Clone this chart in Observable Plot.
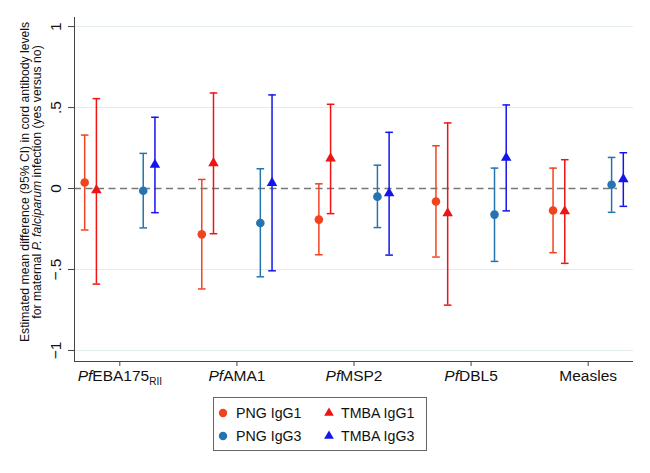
<!DOCTYPE html>
<html><head><meta charset="utf-8">
<script src="https://cdn.jsdelivr.net/npm/d3@7"></script>
<script src="https://cdn.jsdelivr.net/npm/@observablehq/plot@0.6"></script>
<style>
body{margin:0;background:#fff;font-family:"Liberation Sans",Arial,Helvetica,sans-serif}
#chart svg{display:block}
</style></head><body><div id="chart"></div><div id="legend"></div>
<script>
// ---- data ----
const categories = ["PfEBA175RII", "PfAMA1", "PfMSP2", "PfDBL5", "Measles"];
const series = ["PNG IgG1", "TMBA IgG1", "PNG IgG3", "TMBA IgG3"];
const yTicks = [-1, -0.5, 0, 0.5, 1];

const pngIgG1Est = [0.037, -0.283, -0.192, -0.080, -0.136];
const pngIgG1Lo  = [-0.256, -0.620, -0.409, -0.423, -0.396];
const pngIgG1Hi  = [0.330, 0.056, 0.029, 0.264, 0.126];

const tmbaIgG1Est = [-0.010, 0.157, 0.186, -0.153, -0.140];
const tmbaIgG1Lo  = [-0.590, -0.279, -0.155, -0.720, -0.462];
const tmbaIgG1Hi  = [0.555, 0.590, 0.520, 0.405, 0.178];

const pngIgG3Est = [-0.014, -0.213, -0.050, -0.161, 0.023];
const pngIgG3Lo  = [-0.243, -0.545, -0.241, -0.450, -0.147];
const pngIgG3Hi  = [0.217, 0.122, 0.144, 0.126, 0.192];

const tmbaIgG3Est = [0.147, 0.035, -0.029, 0.190, 0.058];
const tmbaIgG3Lo  = [-0.149, -0.508, -0.411, -0.138, -0.110];
const tmbaIgG3Hi  = [0.440, 0.578, 0.347, 0.516, 0.221];

// ---- styling / layout ----
const colors = ["#f0441f", "#ee1414", "#2574b0", "#1414ee"];
const shapes = ["circle", "triangle", "circle", "triangle"];
const dodge = [-0.30, -0.20, 0.20, 0.30];
const xDomain = [0.613, 5.387];
const yDomain = [-1.068, 1.056];
const refLineEnd = 5.25;
const font = '"Liberation Sans", Arial, Helvetica, sans-serif';
const ink = "#111";

const seriesValues = [
  [pngIgG1Est, pngIgG1Lo, pngIgG1Hi],
  [tmbaIgG1Est, tmbaIgG1Lo, tmbaIgG1Hi],
  [pngIgG3Est, pngIgG3Lo, pngIgG3Hi],
  [tmbaIgG3Est, tmbaIgG3Lo, tmbaIgG3Hi]
];
const rows = series.flatMap((s, si) => categories.map((c, ci) => ({
  series: s, shape: shapes[si], pos: ci + 1 + dodge[si],
  est: seriesValues[si][0][ci], lo: seriesValues[si][1][ci], hi: seriesValues[si][2][ci]
})));

const cap = {draw(ctx) { ctx.moveTo(-3.8, 0); ctx.lineTo(3.8, 0); }};
const fmtY = d => d === 0 ? "0" : (d < 0 ? "\u2212" : "") + String(Math.abs(d)).replace(/^0/, "");

const plot = Plot.plot({
  width: 650, height: 395,
  marginLeft: 74, marginRight: 17, marginTop: 17, marginBottom: 34,
  style: {fontFamily: font, background: "#fff"},
  x: {domain: xDomain, label: null},
  y: {domain: yDomain, label: null},
  color: {domain: series, range: colors},
  marks: [
    Plot.ruleY(yTicks.filter(d => d !== 0), {stroke: "#e2ebee", strokeWidth: 1}),
    Plot.ruleY([0], {x1: xDomain[0], x2: refLineEnd, stroke: "#777", strokeWidth: 1.6, strokeDasharray: "7,4.5"}),
    Plot.ruleX([xDomain[0]], {stroke: "#444", strokeWidth: 1}),
    Plot.ruleY([yDomain[0]], {stroke: "#444", strokeWidth: 1}),
    Plot.axisY({ticks: yTicks, tickFormat: () => "", tickSize: 6, stroke: "#444", label: null}),
    Plot.text(yTicks, {x: () => xDomain[0], y: d => d, text: fmtY, rotate: -90, dx: -18.5,
      textAnchor: "middle", lineAnchor: "middle", fontSize: 15.5, fill: ink}),
    Plot.axisX({ticks: [1, 2, 3, 4, 5], tickFormat: i => categories[i - 1], tickSize: 5, tickPadding: 3, fontSize: 15.5, stroke: "#444", color: ink, label: null}),
    Plot.ruleX(rows, {x: "pos", y1: "lo", y2: "hi", stroke: "series", strokeWidth: 1.5}),
    Plot.dot(rows, {x: "pos", y: "lo", symbol: cap, stroke: "series", strokeWidth: 1.5, fill: "none"}),
    Plot.dot(rows, {x: "pos", y: "hi", symbol: cap, stroke: "series", strokeWidth: 1.5, fill: "none"}),
    Plot.dot(rows.filter(d => d.shape === "circle"), {x: "pos", y: "est", symbol: "circle", r: 4.3, fill: "series", stroke: "none"}),
    Plot.dot(rows.filter(d => d.shape === "triangle"), {x: "pos", y: "est", symbol: "triangle", r: 3.9, fill: "series", stroke: "none"})
  ]
});
document.getElementById("chart").appendChild(plot);

// Rich x tick labels (italic Pf, subscript RII)
d3.select(plot).selectAll('[aria-label="x-axis tick label"] text').each(function () {
  const t = d3.select(this);
  let s = t.text();
  t.text(null);
  if (s.startsWith("Pf")) { t.append("tspan").attr("font-style", "italic").text("Pf"); s = s.slice(2); }
  if (s.endsWith("RII")) {
    t.append("tspan").text(s.slice(0, -3));
    t.append("tspan").attr("font-size", 10).attr("dy", 4).text("RII");
  } else {
    t.append("tspan").text(s);
  }
});

// Y axis title (two lines, italic species name)
const yTitleLines = [
  [["Estimated mean difference (95% CI) in cord antibody levels", false]],
  [["for maternal ", false], ["P. falciparum", true], [" infection (yes versus no)", false]]
];
const yTitleX = [25, 37];
const gT = d3.select(plot).append("g").attr("font-family", font).attr("font-size", 12.2).attr("fill", ink);
yTitleLines.forEach((parts, i) => {
  const t = gT.append("text").attr("text-anchor", "middle").attr("dy", "0.35em")
    .attr("transform", `translate(${yTitleX[i]},182) rotate(-90)`);
  parts.forEach(([txt, it]) => t.append("tspan").attr("font-style", it ? "italic" : null).text(txt));
});

// Legend
const lg = d3.select("#legend").append("svg").attr("width", 650).attr("height", 70)
  .style("display", "block").attr("font-family", font);
lg.append("rect").attr("x", 213.5).attr("y", 2.5).attr("width", 213).attr("height", 53)
  .attr("fill", "#fff").attr("stroke", "#666").attr("stroke-width", 1);
const legendCol = [[223, 236], [329, 341]];
const legendRow = [18, 41];
series.forEach((s, si) => {
  const col = legendCol[si % 2], row = legendRow[Math.floor(si / 2)];
  const isTri = shapes[si] === "triangle";
  const sym = d3.symbol(isTri ? d3.symbolTriangle : d3.symbolCircle, isTri ? Math.PI * 3.6 * 3.6 : Math.PI * 4.2 * 4.2);
  lg.append("path").attr("d", sym()).attr("transform", `translate(${col[0]},${row})`).attr("fill", colors[si]);
  lg.append("text").attr("x", col[1]).attr("y", row).attr("dy", "0.35em").attr("font-size", 14.2).attr("fill", ink).text(s);
});
</script></body></html>
